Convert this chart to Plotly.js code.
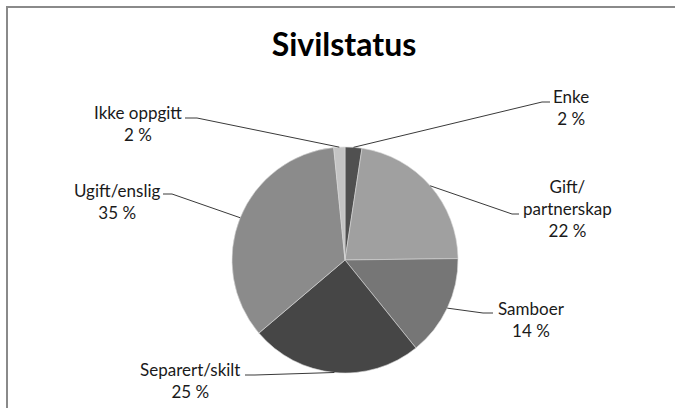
<!DOCTYPE html>
<html>
<head>
<meta charset="utf-8">
<script src="https://cdn.plot.ly/plotly-3.0.1.min.js"></script>
<style>
html,body{margin:0;padding:0;background:#fff;overflow:hidden;}
#wrap{position:relative;width:675px;height:408px;overflow:hidden;}
#chart{width:675px;height:408px;}
#frame{position:absolute;left:6px;top:6px;width:700px;height:420px;border-top:2px solid #8a8a8a;border-left:2px solid #8a8a8a;pointer-events:none;}
</style>
</head>
<body>
<div id="wrap"><div id="chart"></div><div id="frame"></div></div>
<script>
// ---- data ----
const categories = ["Enke", "Gift/<br>partnerskap", "Samboer", "Separert/skilt", "Ugift/enslig", "Ikke oppgitt"];
const values = [2.4, 22.4, 14.4, 24.6, 34.6, 1.6];
const colors = ["#505050", "#a0a0a0", "#767676", "#464646", "#8b8b8b", "#c4c4c4"];
const chartTitle = "Sivilstatus";

// ---- label layout (pixel positions of label centres and leader elbows) ----
const labelPos = [
  {tx: 571, ty: 108, ex: 550, ey: 102, hx: 542},
  {tx: 567, ty: 209, ex: 519, ey: 214, hx: 512},
  {tx: 531, ty: 319, ex: 493, ey: 313, hx: 483},
  {tx: 190, ty: 380, ex: 245, ey: 375, hx: 255},
  {tx: 117, ty: 201, ex: 163, ey: 194, hx: 172},
  {tx: 138, ty: 123, ex: 185, ey: 118, hx: 197}
];

const W = 675, H = 408;
const cx = 345, cy = 260, R = 113;
const px = x => x / W;
const py = y => 1 - y / H;
const FONT = "Lato, 'Open Sans', sans-serif";

const total = values.reduce((a, b) => a + b, 0);
const shapes = [];
const annotations = [];
let cum = 0;
values.forEach((v, i) => {
  const mid = (cum + v / 2) / total * 2 * Math.PI;
  cum += v;
  const ex = cx + R * Math.sin(mid);
  const ey = cy - R * Math.cos(mid);
  const L = labelPos[i];
  shapes.push({type: "path", xref: "paper", yref: "paper",
    path: "M" + px(ex) + "," + py(ey) + " L" + px(L.hx) + "," + py(L.ey) + " L" + px(L.ex) + "," + py(L.ey),
    line: {color: "#3a3a3a", width: 1}});
  annotations.push({xref: "paper", yref: "paper", x: px(L.tx), y: py(L.ty),
    xanchor: "center", yanchor: "middle", showarrow: false, align: "center",
    text: categories[i] + "<br>" + Math.round(v / total * 100) + " %",
    font: {family: FONT, size: 17, color: "#1a1a1a"}});
});

const trace = {
  type: "pie",
  labels: categories,
  values: values,
  sort: false,
  direction: "clockwise",
  rotation: 0,
  textinfo: "none",
  textposition: "none",
  hoverinfo: "skip",
  marker: {colors: colors, line: {color: "#d8d8d8", width: 0.6}},
  domain: {x: [px(cx - R), px(cx + R)], y: [py(cy + R), py(cy - R)]},
  showlegend: false
};

const layout = {
  width: W, height: H,
  margin: {l: 0, r: 0, t: 0, b: 0},
  paper_bgcolor: "#ffffff",
  plot_bgcolor: "#ffffff",
  showlegend: false,
  title: {text: "<b>" + chartTitle + "</b>", x: px(344), xanchor: "center", y: py(45), yanchor: "middle",
    font: {family: FONT, size: 32, color: "#000000"}},
  shapes: shapes,
  annotations: annotations
};

Plotly.newPlot("chart", [trace], layout, {displayModeBar: false, staticPlot: true});
</script>
</body>
</html>
